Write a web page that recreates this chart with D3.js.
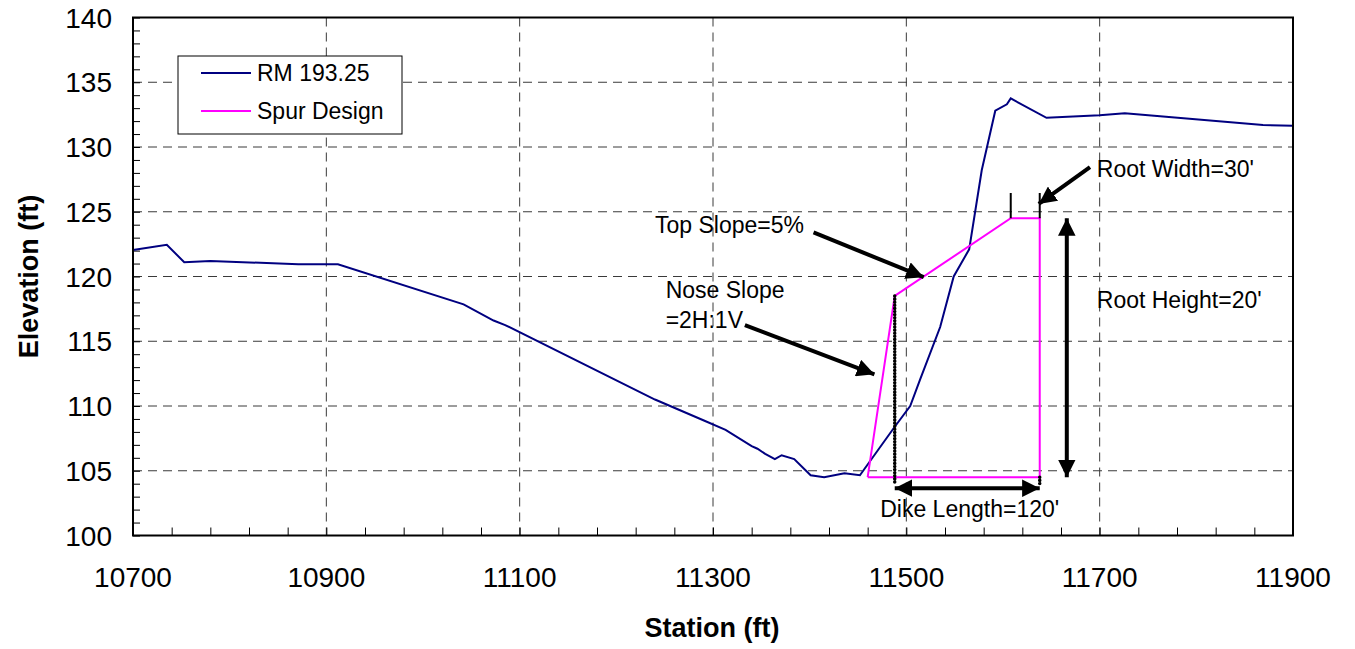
<!DOCTYPE html>
<html>
<head>
<meta charset="utf-8">
<script src="https://cdn.jsdelivr.net/npm/d3@7"></script>
<style>
  body { margin: 0; background: #fff; }
  text { font-family: "Liberation Sans", Arial, sans-serif; }
</style>
</head>
<body>
<svg id="chart" width="1355" height="649"></svg>
<script>
// ground profile, RM 193.25 (station ft, elevation ft)
const groundStation = [10700, 10735, 10753, 10780, 10871, 10912, 11042, 11073, 11085, 11240, 11290, 11313,
  11340, 11346, 11354, 11364, 11371, 11384, 11401, 11415, 11436, 11452, 11488, 11504, 11514, 11535,
  11549, 11565, 11578, 11592, 11604, 11608, 11645, 11700, 11726, 11869, 11900];
const groundElev = [122.05, 122.45, 121.1, 121.2, 120.95, 120.95, 117.85, 116.6, 116.25, 110.5, 108.9, 108.15,
  106.9, 106.7, 106.3, 105.9, 106.2, 105.9, 104.65, 104.5, 104.8, 104.65, 108.4, 110.0, 112.0, 116.1,
  120.0, 122.1, 128.2, 132.8, 133.3, 133.75, 132.25, 132.45, 132.6, 131.7, 131.65];

// spur dike outline
const spurStation = [11460, 11488, 11608, 11638, 11638, 11460];
const spurElev = [104.5, 118.5, 124.5, 124.5, 104.5, 104.5];

const xTicks = [10700, 10900, 11100, 11300, 11500, 11700, 11900];
const yTicks = [100, 105, 110, 115, 120, 125, 130, 135, 140];
const seriesNames = ['RM 193.25', 'Spur Design'];
const seriesColors = ['#000080', '#ff00ff'];

// annotation arrows: [from station, from elev, to station, to elev]
const arrows = [
  [11404, 123.4, 11518, 119.95],   // top slope
  [11333, 116.25, 11467, 112.45],  // nose slope
  [11690, 128.45, 11637, 125.6]    // root width
];
const doubleArrows = [
  [11666, 124.5, 11666, 104.5],    // root height
  [11488, 103.65, 11638, 103.65]   // dike length
];
const widthMarks = [11608, 11638];
const labels = [
  { s: 11240, e: 123.36, t: 'Top Slope=5%' },
  { s: 11251, e: 118.34, t: 'Nose Slope' },
  { s: 11251, e: 116.02, t: '=2H:1V' },
  { s: 11697, e: 127.68, t: "Root Width=30'" },
  { s: 11697, e: 117.57, t: "Root Height=20'" },
  { s: 11473, e: 101.43, t: "Dike Length=120'" }
];

const svg = d3.select('#chart');
const plotLeft = 133, plotRight = 1293, plotTop = 17.5, plotBottom = 535.5;

const x = d3.scaleLinear().domain([10700, 11900]).range([plotLeft, plotRight]);
const y = d3.scaleLinear().domain([100, 140]).range([plotBottom, plotTop]);

// grid
const grid = svg.append('g').attr('stroke', '#3a3a3a').attr('stroke-width', 1).attr('stroke-dasharray', '9,6');
xTicks.slice(1, -1).forEach(v => {
  grid.append('line').attr('x1', x(v)).attr('x2', x(v)).attr('y1', plotTop).attr('y2', plotBottom);
});
yTicks.slice(1, -1).forEach(v => {
  grid.append('line').attr('x1', plotLeft).attr('x2', plotRight).attr('y1', y(v)).attr('y2', y(v));
});

// minor ticks, pointing into the plot
const yAxis = d3.axisRight(y).tickValues(d3.range(100, 141, 1)).tickSize(7).tickFormat('');
svg.append('g').attr('transform', `translate(${plotLeft},0)`).call(yAxis)
  .call(g => g.select('.domain').remove())
  .selectAll('line').attr('stroke', '#000');
const xAxis = d3.axisTop(x).tickValues(d3.range(10700, 11901, 40)).tickSize(8).tickFormat('');
svg.append('g').attr('transform', `translate(0,${plotBottom})`).call(xAxis)
  .call(g => g.select('.domain').remove())
  .selectAll('line').attr('stroke', '#000');

// tick labels
svg.append('g').selectAll('text').data(yTicks).join('text')
  .attr('x', 112).attr('y', d => y(d)).attr('dy', '0.36em')
  .attr('text-anchor', 'end').attr('font-size', 28).text(d => d);
svg.append('g').selectAll('text').data(xTicks).join('text')
  .attr('x', d => x(d)).attr('y', 587)
  .attr('text-anchor', 'middle').attr('font-size', 28).text(d => d);

// axis titles
svg.append('text').attr('x', 712).attr('y', 637).attr('text-anchor', 'middle')
  .attr('font-size', 27).attr('font-weight', 'bold').text('Station (ft)');
svg.append('text').attr('transform', `translate(38,${(plotTop + plotBottom) / 2}) rotate(-90)`)
  .attr('text-anchor', 'middle').attr('font-size', 27).attr('font-weight', 'bold').text('Elevation (ft)');

// series
const line = d3.line().x(d => x(d[0])).y(d => y(d[1]));
const ground = groundStation.map((s, i) => [s, groundElev[i]]);
const spur = spurStation.map((s, i) => [s, spurElev[i]]);
svg.append('path').attr('d', line(ground)).attr('fill', 'none')
  .attr('stroke', seriesColors[0]).attr('stroke-width', 2);
svg.append('path').attr('d', line(spur)).attr('fill', 'none')
  .attr('stroke', seriesColors[1]).attr('stroke-width', 2);

// dotted guide lines
const dots = svg.append('g').attr('stroke', '#000').attr('stroke-width', 3.5)
  .attr('stroke-dasharray', '0.1,3').attr('stroke-linecap', 'round').attr('fill', 'none');
dots.append('path').attr('d', line([[11488, 118.5], [11488, 103.9]]));
dots.append('path').attr('d', line([[11638, 104.5], [11638, 103.8]]));

// arrowheads
const defs = svg.append('defs');
defs.append('marker').attr('id', 'head').attr('viewBox', '0 0 10 10')
  .attr('refX', 10).attr('refY', 5).attr('markerWidth', 4.4).attr('markerHeight', 4.4)
  .attr('markerUnits', 'strokeWidth').attr('orient', 'auto-start-reverse')
  .append('path').attr('d', 'M0,0L10,5L0,10Z').attr('fill', '#000');

const ann = svg.append('g').attr('stroke', '#000').attr('stroke-width', 4).attr('fill', 'none');
arrows.forEach(a => {
  ann.append('line').attr('x1', x(a[0])).attr('y1', y(a[1])).attr('x2', x(a[2])).attr('y2', y(a[3]))
    .attr('marker-end', 'url(#head)');
});
doubleArrows.forEach(a => {
  ann.append('line').attr('x1', x(a[0])).attr('y1', y(a[1])).attr('x2', x(a[2])).attr('y2', y(a[3]))
    .attr('marker-end', 'url(#head)').attr('marker-start', 'url(#head)');
});
widthMarks.forEach(s => {
  svg.append('line').attr('x1', x(s)).attr('x2', x(s)).attr('y1', y(124.5)).attr('y2', y(126.45))
    .attr('stroke', '#000').attr('stroke-width', 2);
});

svg.append('g').selectAll('text').data(labels).join('text')
  .attr('x', d => x(d.s)).attr('y', d => y(d.e)).attr('font-size', 23).text(d => d.t);

// plot frame
svg.append('rect').attr('x', plotLeft).attr('y', plotTop).attr('width', plotRight - plotLeft).attr('height', plotBottom - plotTop)
  .attr('fill', 'none').attr('stroke', '#000').attr('stroke-width', 2);

// legend
const lg = svg.append('g').attr('transform', 'translate(178,56)');
lg.append('rect').attr('width', 224).attr('height', 78).attr('fill', '#fff').attr('stroke', '#000').attr('stroke-width', 1);
seriesNames.forEach((n, i) => {
  const yy = 17 + i * 38;
  lg.append('line').attr('x1', 23).attr('x2', 73).attr('y1', yy).attr('y2', yy)
    .attr('stroke', seriesColors[i]).attr('stroke-width', 2);
  lg.append('text').attr('x', 79).attr('y', yy).attr('dy', '0.36em').attr('font-size', 23).text(n);
});
</script>
</body>
</html>
